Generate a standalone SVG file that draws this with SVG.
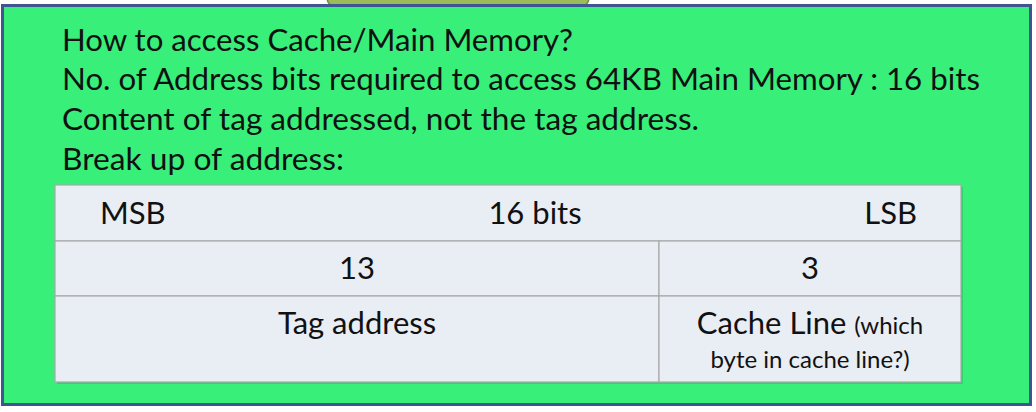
<svg xmlns="http://www.w3.org/2000/svg" width="1036" height="412" viewBox="0 0 1036 412">
<style>
.t{font-family:Lato,"Liberation Sans",sans-serif;fill:#111;}
.h{font-size:30px;}
.c{font-size:31px;}
.s{font-size:24px;}
.cell{fill:#e9edf4;stroke:#a8a8a8;stroke-width:1.2;}
</style>
<rect width="1036" height="412" fill="#ffffff"/>
<g id="tab-shape">
<path d="M326,-4 L590,-4 L588,2 Q586,6 580,6 L336,6 Q330,6 328,2 Z" fill="#9bbb59" stroke="#6f8a3a" stroke-width="1.5"/>
</g>
<g id="panel">
<rect x="2.5" y="5.5" width="1028" height="399" fill="#38ef7a" stroke="#3e5592" stroke-width="3"/>
</g>
<g id="heading">
<text class="t h" x="62" y="51" textLength="511" lengthAdjust="spacingAndGlyphs">How to access Cache/Main Memory?</text>
<text class="t h" x="62" y="90" textLength="918" lengthAdjust="spacingAndGlyphs">No. of Address bits required to access 64KB Main Memory : 16 bits</text>
<text class="t h" x="62" y="130" textLength="637" lengthAdjust="spacingAndGlyphs">Content of tag addressed, not the tag address.</text>
<text class="t h" x="62" y="170" textLength="282" lengthAdjust="spacingAndGlyphs">Break up of address:</text>
</g>
<g id="table">
<rect x="57" y="187" width="906" height="197" fill="#000" opacity="0.12"/>
<rect class="cell" x="55" y="185" width="906" height="56"/>
<rect class="cell" x="55" y="241" width="604" height="55"/>
<rect class="cell" x="659" y="241" width="302" height="55"/>
<rect class="cell" x="55" y="296" width="604" height="86"/>
<rect class="cell" x="659" y="296" width="302" height="86"/>
</g>
<g id="cell-text">
<text class="t c" x="100" y="224">MSB</text>
<text class="t c" x="535" y="224" text-anchor="middle">16 bits</text>
<text class="t c" x="917" y="224" text-anchor="end">LSB</text>
<text class="t c" x="357" y="279" text-anchor="middle">13</text>
<text class="t c" x="810" y="279" text-anchor="middle">3</text>
<text class="t c" x="357" y="334" text-anchor="middle">Tag address</text>
<text class="t" x="810" y="334" text-anchor="middle"><tspan class="c">Cache Line </tspan><tspan class="s">(which</tspan></text>
<text class="t s" x="810" y="368" text-anchor="middle">byte in cache line?)</text>
</g>
</svg>
